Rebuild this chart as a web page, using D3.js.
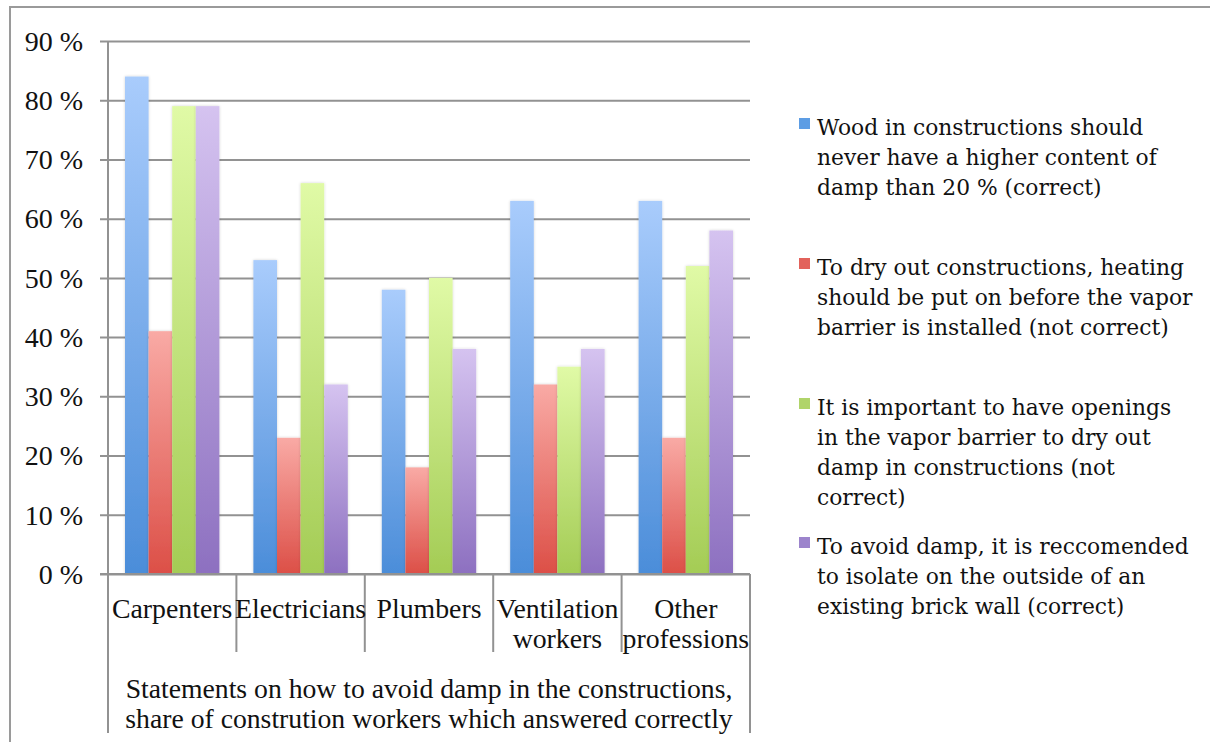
<!DOCTYPE html>
<html>
<head>
<meta charset="utf-8">
<script src="https://cdn.jsdelivr.net/npm/d3@7"></script>
<style>
  html, body { margin: 0; padding: 0; background: #fff; }
  svg { display: block; }
</style>
</head>
<body>
<svg id="chart" width="1210" height="742"></svg>
<script>
// Professions on the x axis
const categories = ["Carpenters", "Electricians", "Plumbers", "Ventilation workers", "Other professions"];
const categoryLines = [["Carpenters"], ["Electricians"], ["Plumbers"], ["Ventilation", "workers"], ["Other", "professions"]];

// Statements (one series each), values in percent
const seriesNames = [
  "Wood in constructions should never have a higher content of damp than 20 % (correct)",
  "To dry out constructions, heating should be put on before the vapor barrier is installed (not correct)",
  "It is important to have openings in the vapor barrier to dry out damp in constructions (not correct)",
  "To avoid damp, it is reccomended to isolate on the outside of an existing brick wall (correct)"
];
const legendLines = [
  ["Wood in constructions should", "never have a higher content of", "damp than 20 % (correct)"],
  ["To dry out constructions, heating", "should be put on before the vapor", "barrier is installed (not correct)"],
  ["It is important to have openings", "in the vapor barrier to dry out", "damp in constructions (not", "correct)"],
  ["To avoid damp, it is reccomended", "to isolate on the outside of an", "existing brick wall (correct)"]
];
const woodValues     = [84, 53, 48, 63, 63];
const heatingValues  = [41, 23, 18, 32, 23];
const openingsValues = [79, 66, 50, 35, 52];
const isolateValues  = [79, 32, 38, 38, 58];
const seriesValues = [woodValues, heatingValues, openingsValues, isolateValues];

const yTicks = [0, 10, 20, 30, 40, 50, 60, 70, 80, 90];
const axisTitle = ["Statements on how to avoid damp in the constructions,",
                   "share of constrution workers which answered correctly"];

// Bar gradients: light top, saturated bottom
const gradients = [
  { top: "#a9ccfc", bottom: "#4b8dd9" },
  { top: "#f9aaa5", bottom: "#dc4f47" },
  { top: "#e0faa6", bottom: "#a4cc55" },
  { top: "#d5c3f0", bottom: "#8d70c0" }
];
const legendColors = ["#5d9de4", "#e2625b", "#b0d46a", "#9c84cc"];

const svg = d3.select("#chart");
const serif = "'Liberation Serif', 'Times New Roman', serif";
const legendFont = "'DejaVu Serif', serif";
const gridColor = "#929292";

const plot = { left: 108, right: 750, top: 41, bottom: 574 };

const x = d3.scaleBand().domain(categories).range([plot.left, plot.right]).padding(0);
const inner = d3.scaleBand().domain(d3.range(seriesNames.length))
  .range([17, x.bandwidth() - 17]).padding(0);
const y = d3.scaleLinear().domain([0, 90]).range([plot.bottom, plot.top]);

const defs = svg.append("defs");
gradients.forEach((g, i) => {
  const lg = defs.append("linearGradient").attr("id", "grad" + i)
    .attr("x1", 0).attr("y1", 0).attr("x2", 0).attr("y2", 1);
  lg.append("stop").attr("offset", "0%").attr("stop-color", g.top);
  lg.append("stop").attr("offset", "100%").attr("stop-color", g.bottom);
});
const shadow = defs.append("filter").attr("id", "shadow")
  .attr("x", "-20%").attr("y", "-5%").attr("width", "140%").attr("height", "110%");
shadow.append("feGaussianBlur").attr("in", "SourceAlpha").attr("stdDeviation", 1.5).attr("result", "b");
shadow.append("feComponentTransfer").attr("in", "b").attr("result", "s")
  .append("feFuncA").attr("type", "linear").attr("slope", 0.18);
const merge = shadow.append("feMerge");
merge.append("feMergeNode").attr("in", "s");
merge.append("feMergeNode").attr("in", "SourceGraphic");

// Outer frame (top and left edges)
svg.append("path")
  .attr("d", "M10,742 V7 H1210")
  .attr("fill", "none").attr("stroke", "#9a9a9a").attr("stroke-width", 2);

// Horizontal gridlines with tick stubs
const yAxis = d3.axisLeft(y).tickValues(yTicks)
  .tickSize(-(plot.right - plot.left)).tickFormat(d => d + " %");
const gy = svg.append("g").attr("transform", `translate(${plot.left},0)`).call(yAxis);
gy.select(".domain").remove();
gy.selectAll(".tick line").attr("x1", -8).attr("stroke", gridColor).attr("stroke-width", 2);
gy.selectAll(".tick text").attr("x", -25).attr("dy", "0.33em")
  .attr("font-family", serif).attr("font-size", 28).attr("fill", "#111");

// Bars
const groups = svg.append("g").selectAll("g").data(seriesValues).join("g")
  .attr("fill", (d, i) => `url(#grad${i})`)
  .attr("filter", "url(#shadow)");
groups.selectAll("rect").data((vals, si) => vals.map((v, ci) => ({ v, ci, si })))
  .join("rect")
  .attr("x", d => x(categories[d.ci]) + inner(d.si))
  .attr("width", inner.bandwidth())
  .attr("y", d => y(d.v))
  .attr("height", d => y(0) - y(d.v));

// Axis lines: left axis, right edge, category separators
const axisG = svg.append("g").attr("stroke", gridColor).attr("stroke-width", 2);
axisG.append("line").attr("x1", plot.left).attr("x2", plot.left).attr("y1", plot.top).attr("y2", 733);
axisG.append("line").attr("x1", plot.right).attr("x2", plot.right).attr("y1", plot.bottom).attr("y2", 733);
categories.slice(1).forEach(c => {
  axisG.append("line").attr("x1", x(c)).attr("x2", x(c)).attr("y1", plot.bottom).attr("y2", 652);
});
axisG.append("line").attr("x1", plot.left - 8).attr("x2", plot.right).attr("y1", plot.bottom).attr("y2", plot.bottom);

// Category labels
const catG = svg.append("g").attr("font-family", serif).attr("font-size", 27.8).attr("fill", "#111")
  .attr("text-anchor", "middle");
categories.forEach((c, i) => {
  categoryLines[i].forEach((line, j) => {
    catG.append("text").attr("x", x(c) + x.bandwidth() / 2).attr("y", 608 + j * 30)
      .attr("dy", "0.35em").text(line);
  });
});

// Axis title
axisTitle.forEach((line, j) => {
  svg.append("text").attr("x", (plot.left + plot.right) / 2).attr("y", 688 + j * 30)
    .attr("dy", "0.35em").attr("text-anchor", "middle")
    .attr("font-family", serif).attr("font-size", 27.7).attr("fill", "#111").text(line);
});

// Legend
const legendTops = [127, 267, 407, 546];
const legend = svg.append("g").attr("font-family", legendFont).attr("font-size", 21.8).attr("fill", "#111");
legendLines.forEach((lines, i) => {
  legend.append("rect").attr("x", 799).attr("y", legendTops[i] - 9).attr("width", 11).attr("height", 11)
    .attr("fill", legendColors[i]);
  lines.forEach((line, j) => {
    legend.append("text").attr("x", 817).attr("y", legendTops[i] + j * 30)
      .attr("dy", "0.35em").text(line);
  });
});
</script>
</body>
</html>
